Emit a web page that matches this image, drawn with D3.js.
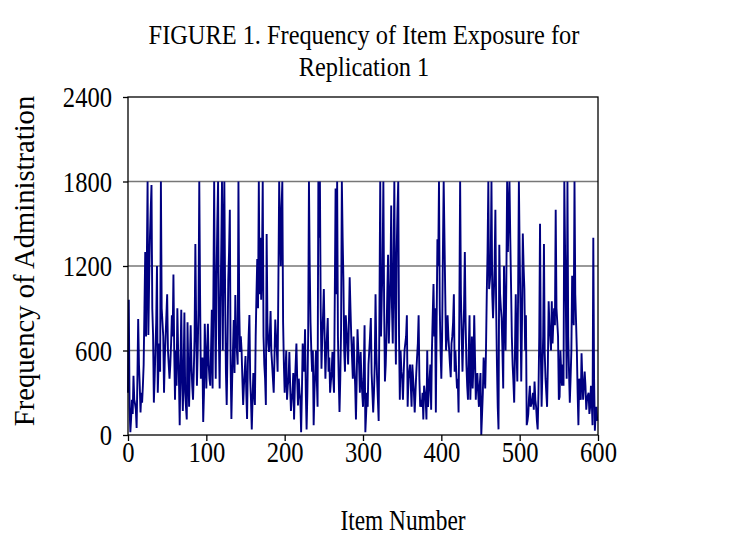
<!DOCTYPE html>
<html><head><meta charset="utf-8">
<script src="https://cdn.jsdelivr.net/npm/d3@7"></script>
<style>body{margin:0;background:#fff}svg{display:block}text{font-family:"Liberation Serif","Times New Roman",serif;fill:#000}</style>
</head><body><svg id="c" width="730" height="538"></svg>
<script>
const titleLines = ["FIGURE 1. Frequency of Item Exposure for", "Replication 1"];
const xLabel = "Item Number";
const yLabel = "Frequency of Administration";
const xTicks = [0, 100, 200, 300, 400, 500, 600];
const yTicks = [0, 600, 1200, 1800, 2400];
const exposure = [
300,960,200,20,120,250,150,420,250,220,180,50,400,824,500,350,160,300,230,350,500,900,1300,700,1200,
1800,710,1100,1400,1600,1775,900,710,230,400,600,800,1200,300,500,650,450,1800,900,800,700,300,550,700,850,
1000,600,500,400,500,650,850,700,1140,600,250,600,350,900,600,400,70,500,890,400,170,450,870,300,200,
110,800,450,200,500,780,500,350,250,450,700,1356,800,350,600,900,1800,1000,400,500,550,92,300,790,550,
330,600,790,500,400,350,600,890,330,1000,1800,900,400,1100,1500,1800,700,330,900,1300,1800,600,1400,1800,1000,
447,213,600,1100,1300,1600,500,113,400,600,816,440,994,700,600,500,1800,900,590,700,600,400,213,350,450,
560,300,113,500,700,852,400,250,40,250,440,300,213,700,1000,1250,900,1800,1000,1400,960,1200,1800,700,500,
400,213,1427,800,650,590,700,880,590,500,400,300,550,820,700,600,450,1100,1800,1500,1200,1600,1800,800,500,
300,450,600,250,350,400,590,350,170,250,300,440,110,350,500,650,400,210,400,300,250,20,300,650,500,
450,750,300,40,300,700,1800,1200,800,600,450,600,70,300,450,600,400,200,1800,1400,1800,900,470,700,850,
1036,700,400,600,700,830,450,550,300,380,450,590,400,300,1000,1750,1000,1800,700,400,163,400,750,1800,1400,
1100,600,450,850,750,650,500,800,1120,900,700,550,400,700,500,350,110,400,750,600,500,300,590,400,300,
200,450,780,20,150,300,200,500,600,700,830,440,300,160,300,500,1000,600,400,250,100,900,1800,700,1000,
1200,1800,900,380,500,700,1000,1280,650,900,1100,1630,900,650,1200,1800,900,500,1300,1600,1800,700,250,600,450,
400,250,450,600,650,700,850,200,400,450,500,350,200,500,400,300,160,300,440,550,650,850,400,200,250,
200,300,110,350,300,250,110,600,200,300,400,500,180,600,850,1072,700,900,160,800,1390,1200,1800,900,600,
400,700,1300,1800,1400,1000,600,700,850,700,600,500,410,650,700,800,1000,450,600,450,330,400,160,900,
1800,1000,700,450,700,900,1300,800,500,350,250,600,850,250,450,700,330,500,850,550,250,400,440,300,
200,350,440,0,150,300,550,450,330,600,1000,1300,1800,1036,1100,1200,1800,1000,830,1000,1200,1600,900,500,
200,40,1350,1000,900,830,600,330,1200,900,600,1100,1800,1300,1600,1800,1400,1060,700,500,380,230,600,1000,
600,380,1000,1800,1300,900,380,800,1430,1200,1036,600,850,70,100,150,270,350,200,220,250,300,180,380,
250,200,100,40,300,700,1500,600,200,450,700,1356,580,400,300,200,500,950,780,700,600,950,650,800,
900,780,1600,900,800,700,250,270,600,450,350,500,350,1800,1300,900,400,1800,700,450,230,400,600,1130,
900,780,1800,1000,800,600,300,70,400,300,250,580,400,250,350,450,350,180,250,280,300,150,200,350,
250,70,1400,400,30,150,200,100
];
const items = exposure.map((d, i) => i);

const SX = 0.82;
const svg = d3.select("#c");
const L = 128, R = 598, T = 97, B = 435;
const x = d3.scaleLinear().domain([0, 600]).range([L, R]);
const y = d3.scaleLinear().domain([0, 2400]).range([B, T]);

svg.append("g").selectAll("line").data(yTicks.filter(t => t > 0 && t < 2400)).join("line")
  .attr("x1", L).attr("x2", R).attr("y1", d => y(d)).attr("y2", d => y(d))
  .attr("stroke", "#777").attr("stroke-width", 1.3);

svg.append("path").datum(items)
  .attr("fill", "none").attr("stroke", "#000080").attr("stroke-width", 1.9)
  .attr("d", d3.line().x(i => x(i)).y(i => y(exposure[i])));

svg.append("rect").attr("x", L).attr("y", T).attr("width", R - L).attr("height", B - T)
  .attr("fill", "none").attr("stroke", "#000").attr("stroke-width", 1.3);

const yAxis = svg.append("g").attr("transform", `translate(${L},0)`)
  .call(d3.axisLeft(y).tickValues(yTicks).tickFormat(d3.format("d")).tickSize(5));
const xAxis = svg.append("g").attr("transform", `translate(0,${B})`)
  .call(d3.axisBottom(x).tickValues(xTicks).tickFormat(d3.format("d")).tickSize(6));
[yAxis, xAxis].forEach(g => {
  g.select(".domain").remove();
  g.selectAll("line").attr("stroke", "#000").attr("stroke-width", 1.3);
  g.selectAll("text").attr("font-family", null).style("font-family", "Liberation Serif, serif")
    .style("font-size", "30px").attr("fill", "#000").attr("transform", `scale(${SX},1)`);
});
yAxis.selectAll("text").attr("x", -16 / SX).attr("dy", "0.33em");
xAxis.selectAll("text").attr("y", 27).attr("dy", 0);

function label(txt, tx, ty, size, sx, rot) {
  svg.append("text").attr("text-anchor", "middle")
    .attr("transform", rot ? `translate(${tx},${ty}) rotate(-90) scale(1,${sx})` : `translate(${tx},${ty}) scale(${sx},1)`)
    .style("font-size", size + "px").text(txt);
}
label(titleLines[0], 364, 44, 28, 0.87);
label(titleLines[1], 364, 76, 28, 0.87);
label(xLabel, 403, 530, 28.5, SX);
label(yLabel, 34, 261, 28.6, 1, true);
</script></body></html>
